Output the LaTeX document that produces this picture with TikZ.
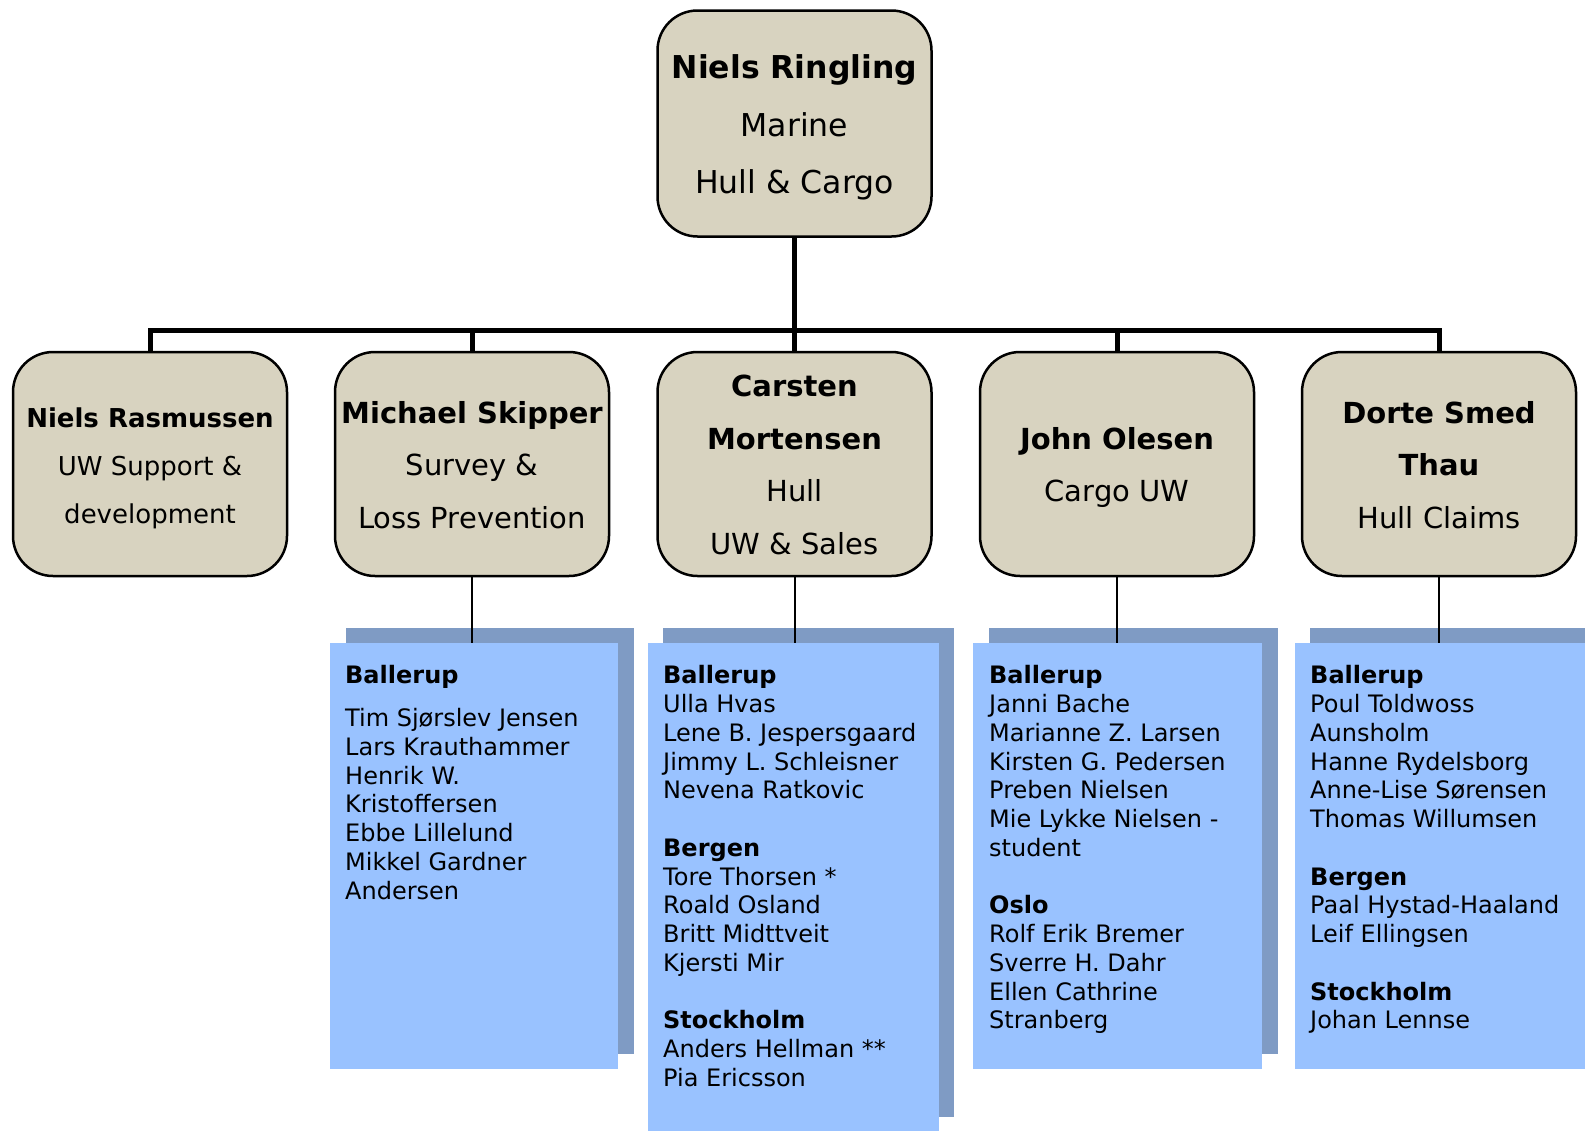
\documentclass[tikz,border=0pt]{standalone}
\usepackage{fontspec}
\setmainfont{DejaVu Sans}
\usetikzlibrary{calc}
\definecolor{beige}{RGB}{216,211,192}
\definecolor{lblue}{RGB}{153,194,255}
\definecolor{sblue}{RGB}{127,155,196}
\begin{document}
\begin{tikzpicture}[x=1pt,y=-1pt,
  mgr/.style={draw=black,line width=2.5pt,fill=beige,rounded corners=40pt,
    minimum width=274pt,minimum height=224pt,inner sep=0pt},
  mtext/.style={inner sep=0pt,align=center},
  bus/.style={line width=5pt},
  thin/.style={line width=2pt},
  shadowbox/.style={fill=sblue},
  frontbox/.style={fill=lblue,anchor=north west,inner sep=0pt},
  list/.style={anchor=north west,inner sep=0pt,align=left,font=\fontsize{24}{28.75}\selectfont}
]
\useasboundingbox (0,0) rectangle (1585,1130);
\clip (0,0) rectangle (1585,1130);

% top node
\node[mgr,minimum height=226pt] (top) at (794.5,123.5) {};
\node[mtext,font=\fontsize{31.5}{57.5}\selectfont] (topt) at ($(top)+(0,4)$)
  {\textbf{Niels Ringling}\\Marine\\Hull \& Cargo};

% second level
\node[mgr] (b1) at (150,464) {};
\node[mtext,font=\fontsize{26}{48}\selectfont] (b1t) at ($(b1)+(0,4)$)
  {\textbf{Niels Rasmussen}\\UW Support \&\\development};
\node[mgr] (b2) at (472,464) {};
\node[mtext,font=\fontsize{29}{52.5}\selectfont] (b2t) at ($(b2)+(0,1)$)
  {\textbf{Michael Skipper}\\Survey \&\\Loss Prevention};
\node[mgr] (b3) at (794.5,464) {};
\node[mtext,font=\fontsize{29}{52.5}\selectfont] (b3t) at ($(b3)+(0,1)$)
  {\textbf{Carsten}\\\textbf{Mortensen}\\Hull\\UW \& Sales};
\node[mgr] (b4) at (1117,464) {};
\node[mtext,font=\fontsize{29}{52.5}\selectfont] (b4t) at ($(b4)+(0,3.5)$)
  {\textbf{John Olesen}\\Cargo UW};
\node[mgr] (b5) at (1439,464) {};
\node[mtext,font=\fontsize{29}{52.5}\selectfont] (b5t) at ($(b5)+(0,1)$)
  {\textbf{Dorte Smed}\\\textbf{Thau}\\Hull Claims};

% bus
\coordinate (bus) at (794.5,330);
\draw[bus] (top.south) -- (bus);
\draw[bus] (b1.north) |- (bus) -| (b5.north);
\draw[bus] (b2.north) -- (b2.north |- bus);
\draw[bus] (b3.north) -- (b3.north |- bus);
\draw[bus] (b4.north) -- (b4.north |- bus);

% blue boxes
\path[shadowbox] (346,628) rectangle (634,1054);
\path[shadowbox] (663,628) rectangle (954,1117);
\path[shadowbox] (989,628) rectangle (1278,1054);
\path[shadowbox] (1310,628) rectangle (1600,1054);

\node[frontbox,minimum width=288pt,minimum height=426pt] (f2) at (330,643) {};
\node[frontbox,minimum width=291pt,minimum height=488pt] (f3) at (648,643) {};
\node[frontbox,minimum width=289pt,minimum height=426pt] (f4) at (973,643) {};
\node[frontbox,minimum width=290pt,minimum height=426pt] (f5) at (1295,643) {};

\draw[thin] (b2.south) -- (b2.south |- f2.north);
\draw[thin] (b3.south) -- (b3.south |- f3.north);
\draw[thin] (b4.south) -- (b4.south |- f4.north);
\draw[thin] (b5.south) -- (b5.south |- f5.north);

\node[list] (t2) at (345,665.5) {\textbf{Ballerup}\\[14pt]Tim Sjørslev Jensen\\Lars Krauthammer\\Henrik W.\\Kristoffersen\\Ebbe Lillelund\\Mikkel Gardner\\Andersen};
\node[list] (t3) at (663,665.5) {\textbf{Ballerup}\\Ulla Hvas\\Lene B. Jespersgaard\\Jimmy L. Schleisner\\Nevena Ratkovic\\[28.75pt]\textbf{Bergen}\\Tore Thorsen *\\Roald Osland\\Britt Midttveit\\Kjersti Mir\\[28.75pt]\textbf{Stockholm}\\Anders Hellman **\\Pia Ericsson};
\node[list] (t4) at (989,665.5) {\textbf{Ballerup}\\Janni Bache\\Marianne Z. Larsen\\Kirsten G. Pedersen\\Preben Nielsen\\Mie Lykke Nielsen -\\student\\[28.75pt]\textbf{Oslo}\\Rolf Erik Bremer\\Sverre H. Dahr\\Ellen Cathrine\\Stranberg};
\node[list] (t5) at (1310,665.5) {\textbf{Ballerup}\\Poul Toldwoss\\Aunsholm\\Hanne Rydelsborg\\Anne-Lise Sørensen\\Thomas Willumsen\\[28.75pt]\textbf{Bergen}\\Paal Hystad-Haaland\\Leif Ellingsen\\[28.75pt]\textbf{Stockholm}\\Johan Lennse};
\end{tikzpicture}
\end{document}
